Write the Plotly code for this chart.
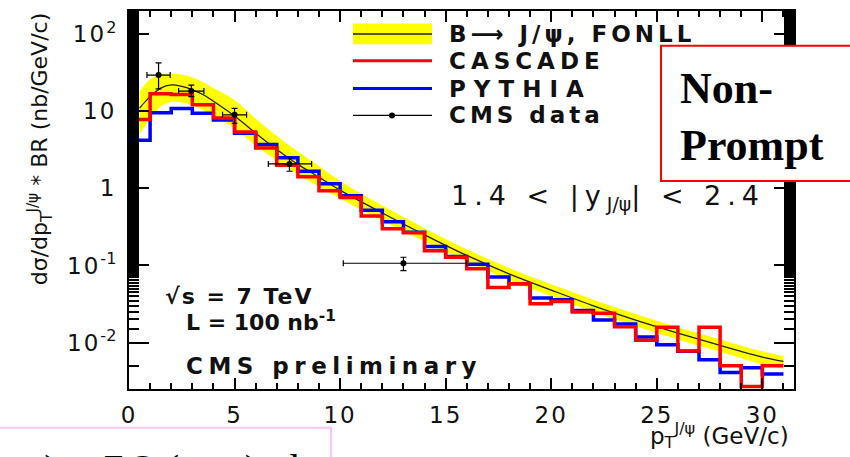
import plotly.graph_objects as go

# ---- data -----------------------------------------------------------------
# histogram bin edges (GeV/c); 1 GeV bins, last one runs past the frame
bin_edges = list(range(0, 32)) + [32]

pythia = [4.2, 9.6, 10.9, 9.4, 7.7, 5.2, 3.7, 2.5, 1.67, 1.15,
          0.80, 0.52, 0.37, 0.27, 0.176, 0.131, 0.104, 0.071, 0.058, 0.038,
          0.036, 0.026, 0.0196, 0.0174, 0.0118, 0.0094, 0.0077, 0.0060, 0.0041, 0.0047,
          0.0039, 0.0039]

cascade = [7.8, 16.9, 16.5, 12.2, 8.2, 5.4, 3.35, 2.0, 1.42, 0.93,
           0.76, 0.44, 0.30, 0.265, 0.155, 0.128, 0.091, 0.052, 0.058, 0.032,
           0.034, 0.025, 0.024, 0.016, 0.0107, 0.0158, 0.0078, 0.0158, 0.0050, 0.0027,
           0.0050, 0.0050]

# FONLL B -> J/psi prediction: central value and uncertainty band
fonll_pt = [0.5, 1.0, 1.5, 2.0, 2.5, 3.0, 3.5, 4.0, 5.0, 6.0, 7.0, 8.0, 9.0, 10.0,
            12.0, 14.0, 16.0, 18.0, 20.0, 22.0, 24.0, 26.0, 28.0, 30.0, 31.0]
fonll_central = [11.0, 15.5, 20.0, 22.0, 21.0, 19.0, 16.5, 13.5, 8.7, 5.2, 3.2, 2.05, 1.4, 0.95,
                 0.48, 0.25, 0.135, 0.078, 0.048, 0.030, 0.0196, 0.0133, 0.0092, 0.0065, 0.0057]
fonll_low = [5.0, 8.0, 11.5, 13.3, 13.0, 12.0, 10.5, 8.8, 6.0, 3.6, 2.3, 1.5, 1.05, 0.74,
             0.38, 0.205, 0.112, 0.065, 0.040, 0.025, 0.0163, 0.011, 0.0076, 0.0052, 0.0046]
fonll_high = [18.0, 26.0, 30.0, 31.0, 30.0, 27.5, 24.0, 20.0, 14.0, 8.0, 4.8, 3.0, 1.95, 1.25,
              0.60, 0.305, 0.162, 0.093, 0.057, 0.036, 0.0235, 0.0158, 0.011, 0.0077, 0.0067]

# CMS measurement
data_pt = [1.4, 2.95, 5.0, 7.6, 13.0]
data_pt_lo = [0.55, 0.6, 0.57, 1.0, 2.85]
data_pt_hi = [0.55, 0.6, 0.57, 1.05, 3.0]
data_xs = [29.5, 18.3, 9.0, 2.08, 0.107]
data_err_lo = [10.0, 2.8, 2.0, 0.41, 0.021]
data_err_hi = [13.0, 3.6, 1.9, 0.40, 0.021]

x_ticks = [0, 5, 10, 15, 20, 25, 30]
y_ticks = [0.01, 0.1, 1, 10, 100]
y_tick_base = ["10", "10", "1", "10", "10"]
y_tick_exp = ["-2", "-1", "", "", "2"]

X_RANGE = [0, 31.5]
Y_RANGE = [-2.602, 2.301]

# ---- geometry helpers (pixel -> paper fraction) ----------------------------
W, H = 850, 457
L, R, T, B = 129, 56, 9, 68
PW, PH = W - L - R, H - T - B


def fx(px):
    return (px - L) / PW


def fy(py):
    return (T + PH - py) / PH


def spaced(text, px):
    return '<span style="letter-spacing:%gpx">%s</span>' % (px, text)


SANS = "DejaVu Sans"
SERIF = "Liberation Serif"
INK = "#111111"

fig = go.Figure()

# FONLL band
fig.add_trace(go.Scatter(x=fonll_pt, y=fonll_high, mode="lines", line=dict(width=0, shape="spline"),
                         hoverinfo="skip", showlegend=False))
fig.add_trace(go.Scatter(x=fonll_pt, y=fonll_low, mode="lines", line=dict(width=0, shape="spline"),
                         fill="tonexty", fillcolor="#ffff00", hoverinfo="skip", showlegend=False))
fig.add_trace(go.Scatter(x=fonll_pt, y=fonll_central, mode="lines",
                         line=dict(color="#222222", width=1.3, shape="spline"), showlegend=False))

# generator histograms
fig.add_trace(go.Scatter(x=bin_edges, y=pythia, mode="lines",
                         line=dict(color="#0000ff", width=3.5, shape="hv"), showlegend=False))
fig.add_trace(go.Scatter(x=bin_edges, y=cascade, mode="lines",
                         line=dict(color="#ff0000", width=3.5, shape="hv"), showlegend=False))

# data
fig.add_trace(go.Scatter(
    x=data_pt, y=data_xs, mode="markers",
    marker=dict(color="black", size=6),
    error_x=dict(type="data", array=data_pt_hi, arrayminus=data_pt_lo, symmetric=False,
                 color="black", thickness=1.2, width=3),
    error_y=dict(type="data", array=data_err_hi, arrayminus=data_err_lo, symmetric=False,
                 color="black", thickness=1.2, width=3),
    showlegend=False))

y_tick_text = [spaced(b, 2) + ("<sup>%s</sup>" % e if e else "")
               for b, e in zip(y_tick_base, y_tick_exp)]

fig.update_layout(
    width=W, height=H,
    margin=dict(l=L, r=R, t=T, b=B, pad=0),
    paper_bgcolor="white", plot_bgcolor="white",
    showlegend=False,
    xaxis=dict(
        range=X_RANGE, showgrid=False, zeroline=False,
        showline=True, linecolor="black", linewidth=2, mirror="ticks",
        ticks="inside", ticklen=11, tickwidth=1.6, tickcolor="black",
        tickmode="array", tickvals=x_ticks, ticktext=[spaced(str(v), 2) for v in x_ticks],
        tickfont=dict(family=SANS, size=23, color=INK), ticklabelstandoff=4,
        minor=dict(ticks="inside", ticklen=6, tickwidth=1.6, tickcolor="black", dtick=1)),
    yaxis=dict(
        type="log", range=Y_RANGE, showgrid=False, zeroline=False,
        showline=True, linecolor="black", linewidth=2, mirror="ticks",
        ticks="inside", ticklen=20, tickwidth=1.6, tickcolor="black",
        tickmode="array", tickvals=y_ticks, ticktext=y_tick_text,
        tickfont=dict(family=SANS, size=23, color=INK), ticklabelstandoff=6,
        minor=dict(ticks="inside", ticklen=10, tickwidth=1.6, tickcolor="black")),
)

shapes = []
annotations = []

# legend
leg_x0, leg_x1, leg_text_x = 353, 432, 447
rows = [32, 59, 87, 114]
shapes.append(dict(type="rect", xref="paper", yref="paper",
                   x0=fx(leg_x0), x1=fx(leg_x1), y0=fy(rows[0] + 10.5), y1=fy(rows[0] - 10.5),
                   fillcolor="#ffff00", line=dict(width=0), layer="above"))
shapes.append(dict(type="line", xref="paper", yref="paper",
                   x0=fx(leg_x0), x1=fx(leg_x1), y0=fy(rows[0]), y1=fy(rows[0]),
                   line=dict(color="#222222", width=1.5), layer="above"))
shapes.append(dict(type="line", xref="paper", yref="paper",
                   x0=fx(leg_x0), x1=fx(leg_x1), y0=fy(rows[1]), y1=fy(rows[1]),
                   line=dict(color="#ff0000", width=3), layer="above"))
shapes.append(dict(type="line", xref="paper", yref="paper",
                   x0=fx(leg_x0), x1=fx(leg_x1), y0=fy(rows[2]), y1=fy(rows[2]),
                   line=dict(color="#0000ff", width=3), layer="above"))
shapes.append(dict(type="line", xref="paper", yref="paper",
                   x0=fx(leg_x0), x1=fx(leg_x1), y0=fy(rows[3]), y1=fy(rows[3]),
                   line=dict(color="black", width=1.2), layer="above"))
shapes.append(dict(type="circle", xref="paper", yref="paper",
                   x0=fx(389), x1=fx(395), y0=fy(rows[3] + 3), y1=fy(rows[3] - 3),
                   fillcolor="black", line=dict(width=0), layer="above"))
legend_labels = ["B\u27f6 J/\u03c8, FONLL", "CASCADE", "PYTHIA", "CMS data"]
legend_spacing = [4, 5, 8, 4]
for label, sp, ry in zip(legend_labels, legend_spacing, rows):
    annotations.append(dict(text="<b>" + spaced(label, sp) + "</b>", x=fx(leg_text_x), y=fy(ry),
                            xref="paper", yref="paper", xanchor="left", yanchor="middle",
                            showarrow=False, font=dict(family=SANS, size=23, color=INK)))

# "Non-Prompt" box
shapes.append(dict(type="rect", xref="paper", yref="paper",
                   x0=fx(661), x1=fx(880), y0=fy(180), y1=fy(44),
                   fillcolor="white", line=dict(color="#ff0000", width=2), layer="above"))
annotations.append(dict(text="<b>Non-<br>Prompt</b>", x=fx(678), y=fy(116),
                        xref="paper", yref="paper", xanchor="left", yanchor="middle", align="left",
                        showarrow=False, font=dict(family=SERIF, size=44, color="black")))

# rapidity range
annotations.append(dict(text=spaced("1.4 < |y", 6) + "<sub>J/\u03c8</sub>" + spaced("| < 2.4", 6),
                        x=fx(449), y=fy(196),
                        xref="paper", yref="paper", xanchor="left", yanchor="middle",
                        showarrow=False, font=dict(family=SANS, size=27, color=INK)))

# run conditions
annotations.append(dict(text="<b>" + spaced("\u221as = 7 TeV", 2) + "</b>", x=fx(163), y=fy(296),
                        xref="paper", yref="paper", xanchor="left", yanchor="middle",
                        showarrow=False, font=dict(family=SANS, size=22, color=INK)))
annotations.append(dict(text="<b>L = 100 nb<sup>-1</sup></b>", x=fx(184), y=fy(321),
                        xref="paper", yref="paper", xanchor="left", yanchor="middle",
                        showarrow=False, font=dict(family=SANS, size=22, color=INK)))
annotations.append(dict(text="<b>" + spaced("CMS preliminary", 5.5) + "</b>", x=fx(184), y=fy(366),
                        xref="paper", yref="paper", xanchor="left", yanchor="middle",
                        showarrow=False, font=dict(family=SANS, size=23, color=INK)))

# axis titles
annotations.append(dict(text="p<sub>T</sub><sup>J/\u03c8</sup> (GeV/c)", x=fx(791), y=fy(436),
                        xref="paper", yref="paper", xanchor="right", yanchor="middle",
                        showarrow=False, font=dict(family=SANS, size=23, color=INK)))
annotations.append(dict(text="d\u03c3/dp<sub>T</sub><sup>J/\u03c8</sup> * BR (nb/GeV/c)",
                        x=fx(40), y=fy(148), textangle=-90,
                        xref="paper", yref="paper", xanchor="center", yanchor="middle",
                        showarrow=False, font=dict(family=SANS, size=22, color=INK)))

# cross-section summary line beneath the frame
shapes.append(dict(type="rect", xref="paper", yref="paper",
                   x0=fx(-20), x1=fx(331), y0=fy(490), y1=fy(428),
                   fillcolor="rgba(0,0,0,0)", line=dict(color="#f5c6f5", width=2), layer="above"))
annotations.append(dict(text="(stat) \u00b1 7.2 (syst) nb", x=fx(313), y=fy(471),
                        xref="paper", yref="paper", xanchor="right", yanchor="middle",
                        showarrow=False, font=dict(family=SERIF, size=42, color="black")))

fig.update_layout(shapes=shapes, annotations=annotations)

fig.write_html("out.html")
